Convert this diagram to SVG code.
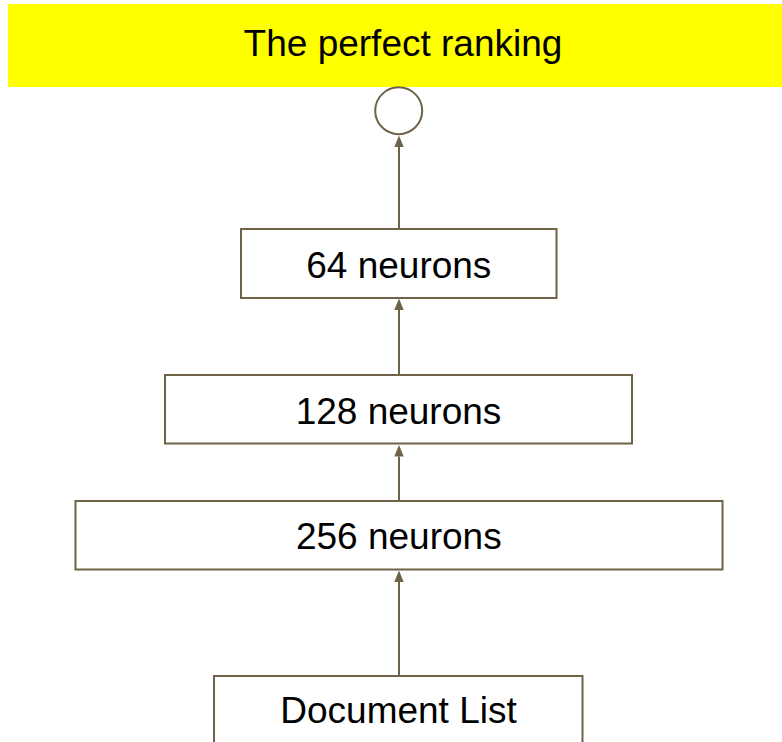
<svg xmlns="http://www.w3.org/2000/svg" width="782" height="742" viewBox="0 0 782 742">
  <style>
    .box { fill: #ffffff; stroke: #6e6248; stroke-width: 2; }
    .label { font-family: "Liberation Sans", Arial, sans-serif; font-size: 37px; fill: #000000; text-anchor: middle; }
    .edge { stroke: #6e6248; stroke-width: 2; fill: none; marker-end: url(#head); }
  </style>
  <defs>
    <!-- arrowhead: base sits on the line end, tip 11px beyond -->
    <marker id="head" markerUnits="userSpaceOnUse" viewBox="0 -5 12 10" markerWidth="12" markerHeight="10" refX="0" refY="0" orient="auto" overflow="visible">
      <path d="M0,-4.7 L11.5,0 L0,4.7 z" fill="#6e6248"/>
    </marker>
  </defs>

  <rect width="782" height="742" fill="#ffffff"/>

  <g id="title">
    <rect x="8" y="4" width="780" height="83" fill="#ffff00"/>
    <text class="label" x="403" y="56">The perfect ranking</text>
  </g>

  <g id="output">
    <circle cx="398.7" cy="110.7" r="23.5" class="box"/>
  </g>

  <g id="layer64">
    <rect class="box" x="241" y="229" width="315.5" height="69"/>
    <text class="label" x="398.8" y="277.5">64 neurons</text>
  </g>

  <g id="layer128">
    <rect class="box" x="165" y="375" width="467" height="68.5"/>
    <text class="label" x="398.5" y="423.5">128 neurons</text>
  </g>

  <g id="layer256">
    <rect class="box" x="75.5" y="501" width="647" height="68.5"/>
    <text class="label" x="398.8" y="549">256 neurons</text>
  </g>

  <g id="input">
    <rect class="box" x="214" y="676" width="368.5" height="90"/>
    <text class="label" x="398.5" y="723.3">Document List</text>
  </g>

  <g id="connectors">
    <line class="edge" x1="399" y1="229" x2="399" y2="147"/>
    <line class="edge" x1="399" y1="375" x2="399" y2="310"/>
    <line class="edge" x1="399" y1="501" x2="399" y2="456.5"/>
    <line class="edge" x1="399" y1="676" x2="399" y2="582"/>
  </g>
</svg>
